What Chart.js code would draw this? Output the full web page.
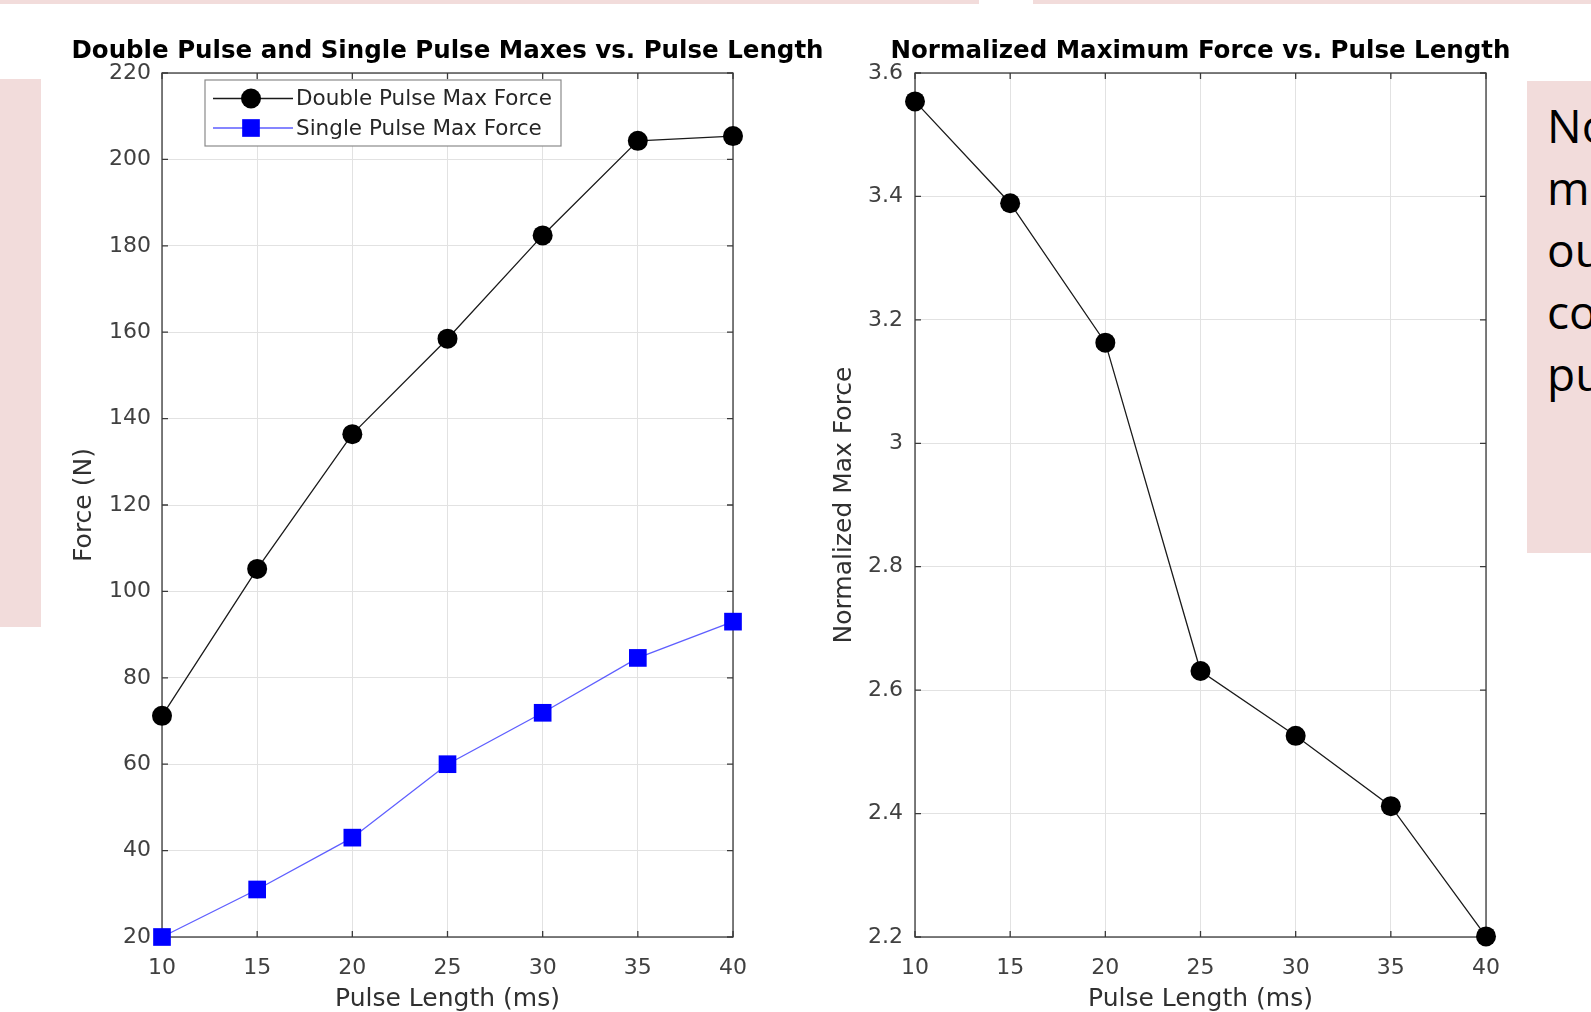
<!DOCTYPE html>
<html>
<head>
<meta charset="utf-8">
<script src="https://cdn.jsdelivr.net/npm/chart.js"></script>
<style>
  html, body { margin: 0; padding: 0; background: #fff; overflow: hidden; }
  #page { position: relative; width: 1591px; height: 1012px; overflow: hidden; }
  .pink { position: absolute; background: #f2dcdb; }
  .chart-box { position: absolute; top: 0; height: 1017px; }
  #note { position: absolute; left: 1547px; top: 94px; font-family: "Open Sans", sans-serif;
          font-size: 46px; line-height: 62px; color: #000; white-space: nowrap; }
</style>
</head>
<body>
<div id="page">
  <div class="pink" style="left:0;top:0;width:979px;height:4px"></div>
  <div class="pink" style="left:1033px;top:0;width:558px;height:4px"></div>
  <div class="pink" style="left:0;top:79px;width:41px;height:548px"></div>
  <div class="pink" style="left:1527px;top:81px;width:64px;height:472px"></div>
  <div id="note">Normalized<br>maximum<br>output<br>compared<br>pulse</div>
  <div class="chart-box" style="left:50px;width:800px"><canvas id="leftChart"></canvas></div>
  <div class="chart-box" style="left:800px;width:718px"><canvas id="rightChart"></canvas></div>
</div>
<script>
// values
const pulseLengths = [10, 15, 20, 25, 30, 35, 40];
const doubleMax = [71.2, 105.2, 136.4, 158.5, 182.4, 204.3, 205.4];
const singleMax = [20, 31, 43, 60, 71.9, 84.6, 93];
const normMax = [3.554, 3.389, 3.163, 2.631, 2.526, 2.412, 2.201];

const xTicks = { min: 10, max: 40, step: 5 };
const forceTicks = { min: 20, max: 220, step: 20 };
const normTicks = { min: 2.2, max: 3.6, step: 0.2 };

const AXIS = '#3a3a3a';
const GRID = '#e2e2e2';
const TICK_TXT = '#404040';

Chart.defaults.font.family = 'DejaVu Sans';

const toPoints = ys => pulseLengths.map((x, i) => ({ x: x, y: ys[i] }));

// MATLAB style box with inward ticks
const boxPlugin = {
    id: 'boxPlugin',
    beforeDatasetsDraw(chart) {
        const { ctx, chartArea: a, scales } = chart;
        ctx.save();
        ctx.strokeStyle = AXIS;
        ctx.lineWidth = 1.3;
        ctx.strokeRect(a.left, a.top, a.right - a.left, a.bottom - a.top);
        ctx.beginPath();
        scales.x.ticks.forEach(t => {
            const px = scales.x.getPixelForValue(t.value);
            ctx.moveTo(px, a.bottom); ctx.lineTo(px, a.bottom - 6);
            ctx.moveTo(px, a.top); ctx.lineTo(px, a.top + 6);
        });
        scales.y.ticks.forEach(t => {
            const py = scales.y.getPixelForValue(t.value);
            ctx.moveTo(a.left, py); ctx.lineTo(a.left + 6, py);
            ctx.moveTo(a.right, py); ctx.lineTo(a.right - 6, py);
        });
        ctx.stroke();
        ctx.restore();
    }
};

// title centred over the plot box, like MATLAB does
const plotTitle = {
    id: 'plotTitle',
    afterDraw(chart, args, opts) {
        const { ctx, chartArea: a } = chart;
        ctx.save();
        ctx.font = 'bold ' + opts.size + 'px "DejaVu Sans"';
        ctx.fillStyle = '#000';
        ctx.textAlign = 'center';
        ctx.textBaseline = 'middle';
        ctx.fillText(opts.text, (a.left + a.right) / 2, 52);
        ctx.restore();
    }
};

function drawMarker(ctx, ds, x, y) {
    ctx.fillStyle = ds.pointBackgroundColor;
    ctx.beginPath();
    if (ds.pointStyle === 'rect') {
        const s = ds.pointRadius * Math.SQRT1_2;
        ctx.rect(x - s, y - s, 2 * s, 2 * s);
    } else {
        ctx.arc(x, y, ds.pointRadius, 0, Math.PI * 2);
    }
    ctx.fill();
}

// legend box inside the plot, top-left
const boxLegend = {
    id: 'boxLegend',
    afterDatasetsDraw(chart, args, opts) {
        if (!opts.show) return;
        const { ctx, chartArea: a } = chart;
        const left = a.left + 43, top = a.top + 7, w = 356, h = 66;
        ctx.save();
        ctx.fillStyle = '#fff';
        ctx.fillRect(left, top, w, h);
        ctx.strokeStyle = '#8a8a8a';
        ctx.lineWidth = 1.2;
        ctx.strokeRect(left, top, w, h);
        ctx.font = '21.5px "DejaVu Sans"';
        ctx.textBaseline = 'middle';
        chart.data.datasets.forEach((ds, i) => {
            const y = top + 18.5 + i * 29.5;
            ctx.strokeStyle = ds.borderColor;
            ctx.lineWidth = ds.borderWidth;
            ctx.beginPath();
            ctx.moveTo(left + 8, y); ctx.lineTo(left + 88, y);
            ctx.stroke();
            drawMarker(ctx, ds, left + 46, y);
            ctx.fillStyle = '#262626';
            ctx.fillText(ds.label, left + 91, y + 1);
        });
        ctx.restore();
    }
};

function makeChart(id, datasets, yTicks, yTitle, opt) {
    return new Chart(document.getElementById(id), {
        type: 'line',
        data: { datasets: datasets },
        plugins: [boxPlugin, boxLegend, plotTitle],
        options: {
            responsive: true,
            maintainAspectRatio: false,
            animation: false,
            layout: { padding: { left: 0, right: opt.padRight, top: 73, bottom: 0 } },
            plugins: {
                legend: { display: false },
                tooltip: { enabled: false },
                title: { display: false },
                boxLegend: { show: opt.legend },
                plotTitle: { text: opt.title, size: opt.titleSize }
            },
            scales: {
                x: {
                    type: 'linear',
                    min: xTicks.min, max: xTicks.max,
                    afterFit: s => { s.height = 80; },
                    ticks: { stepSize: xTicks.step, padding: 18, color: TICK_TXT, font: { size: 22 } },
                    grid: { color: GRID, drawTicks: false },
                    border: { display: false },
                    title: { display: true, text: 'Pulse Length (ms)', color: '#303030',
                             font: { size: 25 }, padding: { top: 0, bottom: 3 } }
                },
                y: {
                    min: yTicks.min, max: yTicks.max,
                    afterFit: s => { s.width = opt.yWidth; },
                    ticks: { stepSize: yTicks.step, padding: opt.tickPad, color: TICK_TXT, font: { size: 22 },
                             callback: v => String(+v.toFixed(1)) },
                    grid: { color: GRID, drawTicks: false },
                    border: { display: false },
                    title: { display: true, text: yTitle, color: '#303030',
                             font: { size: 25 }, padding: { top: opt.titlePad, bottom: 0 } }
                }
            }
        }
    });
}

makeChart('leftChart', [
    {
        label: 'Double Pulse Max Force',
        data: toPoints(doubleMax),
        borderColor: '#1a1a1a', borderWidth: 1.3,
        pointStyle: 'circle', pointRadius: 10,
        pointBackgroundColor: '#000', pointBorderWidth: 0,
        tension: 0, clip: false
    },
    {
        label: 'Single Pulse Max Force',
        data: toPoints(singleMax),
        borderColor: 'rgba(40,40,255,0.75)', borderWidth: 1.3,
        pointStyle: 'rect', pointRadius: 12.5,
        pointBackgroundColor: '#0000ff', pointBorderWidth: 0,
        tension: 0, clip: false
    }
], forceTicks, 'Force (N)', {
    title: 'Double Pulse and Single Pulse Maxes vs. Pulse Length', titleSize: 24.5,
    legend: true, yWidth: 112, tickPad: 11, titlePad: 19, padRight: 117
});

makeChart('rightChart', [
    {
        label: 'Normalized Max Force',
        data: toPoints(normMax),
        borderColor: '#1a1a1a', borderWidth: 1.3,
        pointStyle: 'circle', pointRadius: 10,
        pointBackgroundColor: '#000', pointBorderWidth: 0,
        tension: 0, clip: false
    }
], normTicks, 'Normalized Max Force', {
    title: 'Normalized Maximum Force vs. Pulse Length', titleSize: 24.5,
    legend: false, yWidth: 115, tickPad: 12, titlePad: 29, padRight: 20
});
</script>
</body>
</html>
